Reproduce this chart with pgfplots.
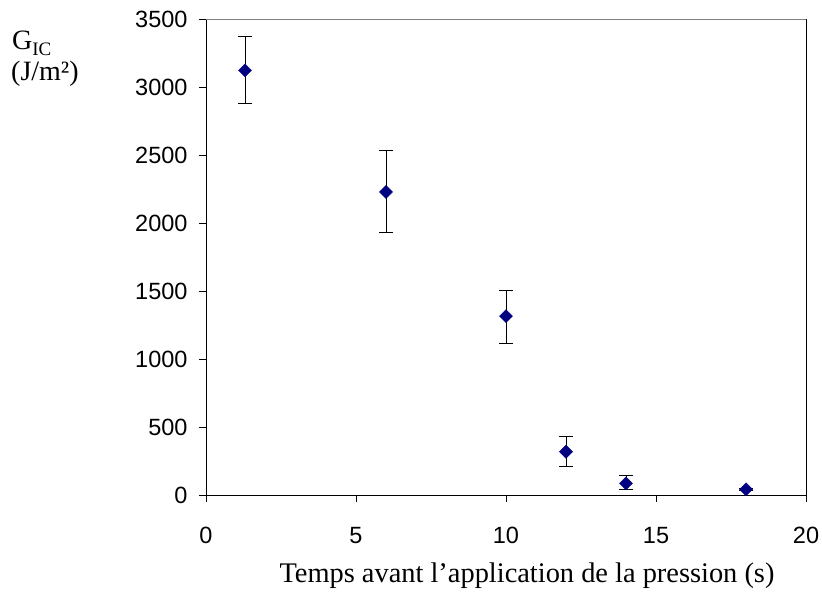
\documentclass[border=0pt]{standalone}
\usepackage{fontspec}
\setmainfont{Liberation Serif}
\newfontfamily\arialfont{Liberation Sans}
\usepackage{pgfplots}
\pgfplotsset{compat=1.18}
\definecolor{navyblue}{RGB}{0,0,128}
\begin{document}
\begin{tikzpicture}
\useasboundingbox (-206pt,-109pt) rectangle (616pt,495pt);
\begin{axis}[
  at={(0pt,0pt)}, anchor=south west,
  scale only axis,
  width=600pt, height=476pt,
  xmin=0, xmax=20, ymin=0, ymax=3500,
  xtick={0,5,...,20}, ytick={0,500,...,3500},
  tick pos=left,
  tick align=outside,
  major tick length=7pt,
  tick style={black, line width=0.8pt},
  axis line style={black, line width=0.9pt},
  /pgf/number format/assume math mode=true,
  /pgf/number format/1000 sep={},
  ticklabel style={font=\arialfont\fontsize{23.5}{26}\selectfont},
  yticklabel style={xshift=-8pt},
  xticklabel style={yshift=-22pt},
  clip=false,
]
\addplot[
  only marks,
  mark=square*,
  mark size=4.6pt,
  mark options={rotate=45, fill=navyblue, draw=navyblue},
  error bars/.cd,
    y dir=both, y explicit,
    error bar style={black, line width=0.9pt},
    error mark options={rotate=90, mark size=7pt, black, line width=0.9pt},
] table[x=x, y=y, y error plus=ep, y error minus=em] {
x    y     ep    em
1.3  3122  252   240
6    2228  308   294
10   1315  191   201
12   318   110   110
14   86    56    42
18   42    8     8
};
\draw[gray, line width=0.9pt] (rel axis cs:0,1) -- (rel axis cs:1,1);
\end{axis}
\node[anchor=base west, inner sep=0pt, font=\fontsize{28}{32}\selectfont] at (-194pt,445pt) {G\raisebox{-0.18em}{\fontsize{19}{22}\selectfont IC}};
\node[anchor=base west, inner sep=0pt, font=\fontsize{28}{32}\selectfont] at (-195pt,414pt) {(J/m²)};
\node[anchor=base, inner sep=0pt, font=\fontsize{28.4}{32}\selectfont] at (321pt,-88pt) {Temps avant l’application de la pression (s)};
\end{tikzpicture}
\end{document}
